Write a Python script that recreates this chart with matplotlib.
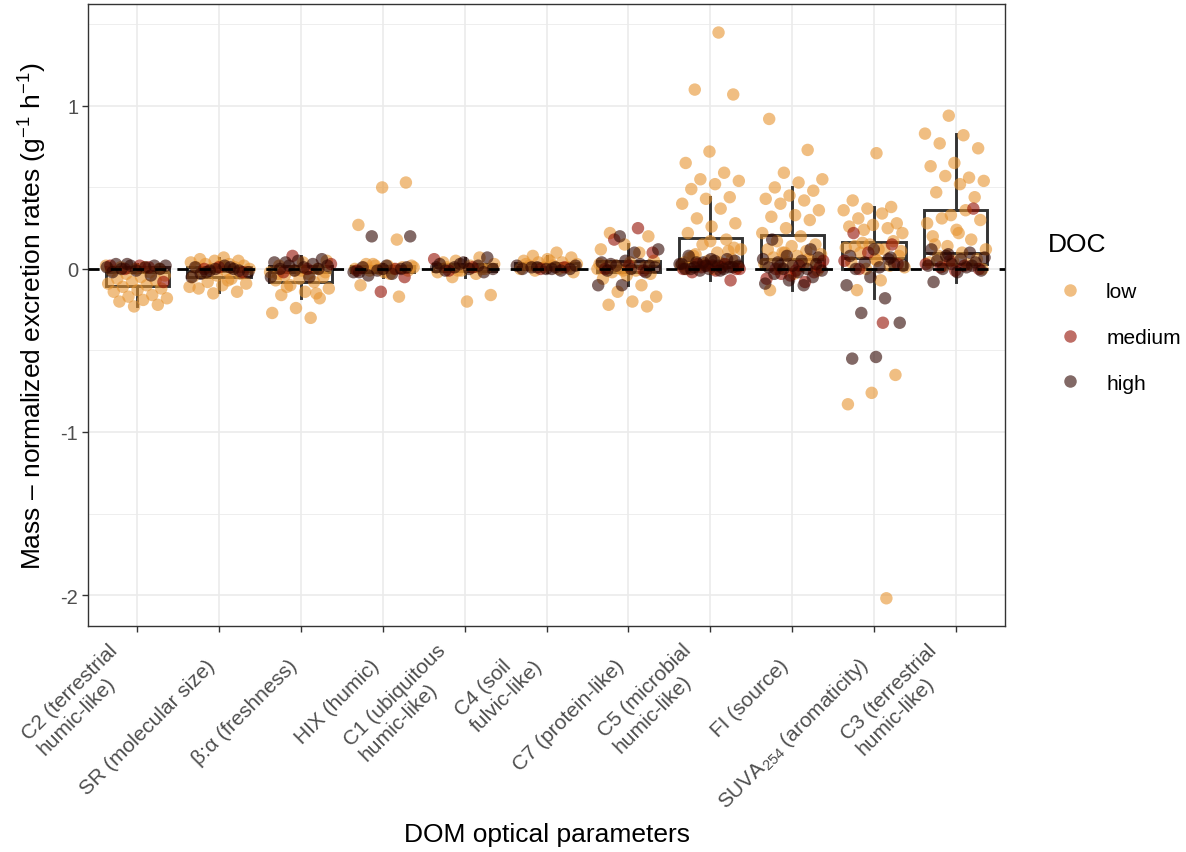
import numpy as np
import matplotlib
matplotlib.use("Agg")
import matplotlib.pyplot as plt
from matplotlib.lines import Line2D
from matplotlib.ticker import FixedLocator

plt.rcParams['font.family'] = ['Liberation Sans', 'DejaVu Sans']
plt.rcParams['mathtext.fontset'] = 'custom'
plt.rcParams['mathtext.rm'] = 'Liberation Sans'
plt.rcParams['mathtext.it'] = 'Liberation Sans:italic'
plt.rcParams['mathtext.bf'] = 'Liberation Sans:bold'

categories = ["C2 (terrestrial\nhumic-like)", "SR (molecular size)", "β:α (freshness)",
              "HIX (humic)", "C1 (ubiquitous\nhumic-like)", "C4 (soil\nfulvic-like)",
              "C7 (protein-like)", "C5 (microbial\nhumic-like)", "FI (source)",
              "SUVA$_{254}$ (aromaticity)", "C3 (terrestrial\nhumic-like)"]
doc_levels = ["low", "medium", "high"]
doc_colors = ["#E6932F", "#930D00", "#2F0500"]

# ---- values (g^-1 h^-1) per parameter and DOC level ----
c2_low = [0.02, 0.01, 0.01, 0.0, 0.0, -0.01, -0.02, -0.03, -0.04, -0.05, -0.06, -0.07, -0.08,
          -0.09, -0.10, -0.11, -0.12, -0.13, -0.14, -0.16, -0.17, -0.18, -0.19, -0.20, -0.22, -0.23]
c2_med = [0.02, 0.01, 0.0, -0.08, 0.02]
c2_high = [0.03, 0.02, 0.02, 0.01, 0.01, 0.0, 0.0, -0.01, -0.02, -0.04, 0.03, 0.02]

sr_low = [0.07, 0.06, 0.05, 0.05, 0.04, 0.03, 0.03, 0.02, 0.02, 0.01, 0.01, 0.0, 0.0, -0.01,
          -0.02, -0.03, -0.04, -0.05, -0.06, -0.08, -0.09, -0.10, -0.12, -0.14, -0.15, -0.11, -0.07]
sr_med = [0.0, -0.02, 0.01]
sr_high = [0.01, 0.0, -0.01, -0.02, 0.02, -0.03, -0.01, 0.0, -0.05, 0.01, -0.02]

ba_low = [0.05, 0.04, 0.02, 0.0, -0.01, -0.02, -0.03, -0.04, -0.05, -0.06, -0.07, -0.08, -0.10,
          -0.12, -0.14, -0.16, -0.18, -0.24, -0.27, -0.30, -0.11, -0.02, -0.01, -0.03, -0.15]
ba_med = [0.08, 0.03, 0.0, -0.02]
ba_high = [0.06, 0.05, 0.04, 0.03, 0.02, 0.02, 0.01, 0.0, 0.0, -0.01, -0.05, -0.05, 0.04]

hix_low = [0.53, 0.50, 0.27, 0.18, 0.03, 0.02, 0.02, 0.01, 0.01, 0.0, 0.0, 0.0, -0.01, -0.01,
           -0.02, -0.10, -0.17, 0.02, 0.01, -0.03, 0.03]
hix_med = [-0.05, -0.14, -0.01, 0.0]
hix_high = [0.20, 0.20, 0.02, 0.01, 0.0, -0.01, -0.02, -0.03, -0.04, 0.01, 0.0, -0.02]

c1_low = [0.07, 0.05, 0.03, 0.02, 0.01, 0.0, -0.01, -0.02, -0.03, -0.05, -0.16, -0.20, 0.04, 0.0, -0.01]
c1_med = [0.06, 0.01, -0.01]
c1_high = [0.07, 0.04, 0.03, 0.02, 0.01, 0.0, 0.0, -0.01, -0.02, 0.03, 0.01]

c4_low = [0.10, 0.08, 0.07, 0.06, 0.05, 0.04, 0.04, 0.03, 0.02, 0.02, 0.01, 0.01, 0.0, 0.0,
          -0.01, -0.02, 0.05, 0.03]
c4_med = [0.01, 0.0]
c4_high = [0.02, 0.01, 0.01, 0.0, 0.0, 0.0, -0.01, 0.01, 0.02, 0.0]

c7_low = [0.22, 0.20, 0.15, 0.12, 0.10, 0.02, 0.05, 0.04, 0.02, 0.01, 0.0, 0.0, -0.01, -0.02,
          -0.03, -0.04, -0.06, -0.10, -0.14, -0.17, -0.20, -0.22, -0.23, -0.01, 0.03]
c7_med = [0.25, 0.18, 0.10, 0.02, 0.0, -0.01]
c7_high = [0.20, 0.12, 0.10, 0.03, 0.02, 0.05, 0.04, 0.03, 0.02, 0.01, 0.0, -0.01, -0.02, -0.10, -0.10]

c5_low = [1.45, 1.10, 1.07, 0.72, 0.65, 0.59, 0.55, 0.54, 0.52, 0.49, 0.44, 0.43, 0.40, 0.37,
          0.31, 0.28, 0.26, 0.22, 0.18, 0.15, 0.12, 0.10, 0.08, 0.06, 0.05, 0.04, 0.03, 0.02,
          0.01, 0.0, 0.07, 0.11, 0.03, 0.02, 0.04, 0.09, 0.13, 0.17, 0.0]
c5_med = [0.03, 0.01, 0.0, -0.01, -0.02, -0.07, 0.02, 0.0, 0.01, 0.03, 0.0, 0.02]
c5_high = [0.08, 0.06, 0.04, 0.03, 0.02, 0.01, 0.01, 0.0, 0.0, 0.0, -0.01, 0.02, 0.05,
           0.0, 0.01, 0.02, 0.03, -0.01, 0.04, 0.05, 0.06]

fi_low = [0.92, 0.73, 0.59, 0.55, 0.53, 0.50, 0.48, 0.45, 0.43, 0.42, 0.40, 0.36, 0.33, 0.32,
          0.30, 0.25, 0.22, 0.20, 0.17, 0.15, 0.14, 0.12, 0.11, 0.10, 0.09, 0.08, 0.07, 0.05,
          0.04, 0.03, 0.02, 0.0, -0.01, -0.03, -0.13, 0.06, 0.10]
fi_med = [0.05, 0.02, 0.0, -0.02, -0.04, -0.06, -0.08, -0.03, 0.01, -0.01]
fi_high = [0.18, 0.12, 0.08, 0.06, 0.05, 0.04, 0.03, 0.02, 0.01, 0.0, 0.0, -0.01, -0.02,
           -0.03, -0.05, -0.07, -0.09, -0.10, 0.02, 0.07]

suva_low = [0.71, 0.42, 0.38, 0.37, 0.36, 0.34, 0.31, 0.28, 0.27, 0.26, 0.25, 0.24, 0.22, 0.12,
            0.14, 0.17, 0.15, 0.13, 0.12, 0.10, 0.08, 0.06, 0.04, 0.02, 0.0, 0.01, -0.07, -0.13,
            -0.65, -0.76, -0.83, -2.02, 0.16, 0.11, 0.05]
suva_med = [0.22, 0.15, 0.10, 0.05, -0.33, 0.0, 0.03]
suva_high = [0.12, 0.08, 0.06, 0.04, 0.02, 0.01, 0.0, 0.03, -0.05, -0.10, -0.18, -0.27, -0.33,
             -0.54, -0.55, 0.07]

c3_low = [0.94, 0.83, 0.82, 0.77, 0.74, 0.65, 0.63, 0.56, 0.57, 0.54, 0.52, 0.47, 0.44, 0.33,
          0.28, 0.36, 0.31, 0.30, 0.24, 0.20, 0.18, 0.14, 0.12, 0.10, 0.08, 0.06, 0.05, 0.04,
          0.03, 0.02, 0.0, 0.22, 0.15]
c3_med = [0.37, 0.05, 0.03, 0.02, 0.01, 0.0, -0.01]
c3_high = [0.12, 0.10, 0.08, 0.07, 0.06, 0.05, 0.04, 0.03, 0.02, 0.01, 0.0, -0.01, -0.02,
           -0.08, 0.02, 0.09]

groups = [
    (c2_low, c2_med, c2_high), (sr_low, sr_med, sr_high), (ba_low, ba_med, ba_high),
    (hix_low, hix_med, hix_high), (c1_low, c1_med, c1_high), (c4_low, c4_med, c4_high),
    (c7_low, c7_med, c7_high), (c5_low, c5_med, c5_high), (fi_low, fi_med, fi_high),
    (suva_low, suva_med, suva_high), (c3_low, c3_med, c3_high),
]

fig = plt.figure(figsize=(11.86, 8.53), dpi=100)
ax = fig.add_axes([88 / 1186, 1 - 627 / 853, (1005 - 88) / 1186, (627 - 5) / 853])

positions = np.arange(1, len(categories) + 1)
all_vals = [np.concatenate([np.asarray(g, float) for g in grp]) for grp in groups]

ax.boxplot(all_vals, positions=positions, widths=0.77, showfliers=False, whis=1.5,
           showcaps=False, patch_artist=True, manage_ticks=False,
           boxprops=dict(facecolor="white", edgecolor="#333333", linewidth=2.1),
           whiskerprops=dict(color="#333333", linewidth=2.1),
           medianprops=dict(color="#333333", linewidth=2.1),
           zorder=2)

# deterministic jitter (golden-ratio sequence)
jit_w = 0.38
k = 0
for i, grp in enumerate(groups):
    for lvl, vals in enumerate(grp):
        n = len(vals)
        idx = np.arange(k, k + n)
        k += n
        offs = ((idx * 0.6180339887) % 1.0 - 0.5) * 2 * jit_w
        ax.scatter(positions[i] + offs, vals, s=80, color=doc_colors[lvl], alpha=0.6,
                   edgecolors="none", zorder=3)

ax.axhline(0, color="black", linewidth=2.0, linestyle=(0, (4, 4)), zorder=4)

ax.set_xlim(0.4, 11.6)
ax.set_ylim(-2.19, 1.625)
ax.yaxis.set_major_locator(FixedLocator([-2, -1, 0, 1]))
ax.yaxis.set_minor_locator(FixedLocator([-1.5, -0.5, 0.5, 1.5]))
ax.set_yticklabels(["-2", "-1", "0", "1"])
ax.set_xticks(positions)
ax.set_xticklabels(categories, rotation=45, ha="right", va="bottom", rotation_mode="anchor",
                   multialignment="left", fontsize=15, color="#4D4D4D")
ax.tick_params(axis="y", which="major", labelsize=14.5, labelcolor="#4D4D4D", length=4,
               width=1.0, color="#333333", pad=3)
ax.tick_params(axis="x", which="major", length=4, width=1.0, color="#333333", pad=27)
ax.tick_params(axis="y", which="minor", length=0)

ax.set_axisbelow(True)
ax.grid(True, which="major", color="#EBEBEB", linewidth=1.2)
ax.grid(True, which="minor", axis="y", color="#EBEBEB", linewidth=0.6)
for sp in ax.spines.values():
    sp.set_color("#333333")
    sp.set_linewidth(1.0)

ax.set_xlabel("DOM optical parameters", fontsize=19)
ax.xaxis.set_label_coords(0.5, -0.315)
ax.set_ylabel("Mass – normalized excretion rates (g$^{-1}$ h$^{-1}$)", fontsize=19, labelpad=8)

handles = [Line2D([], [], marker="o", linestyle="none", markersize=9, color=c, alpha=0.6,
                  markeredgewidth=0) for c in doc_colors]
leg = fig.legend(handles, doc_levels, title="DOC", loc="upper left",
                 bbox_to_anchor=(1029 / 1186, 1 - 214 / 853), frameon=False,
                 fontsize=15, title_fontsize=19, labelspacing=1.28, handletextpad=0.7,
                 handlelength=2.1, alignment="left")

fig.savefig("out.png", dpi=100)
